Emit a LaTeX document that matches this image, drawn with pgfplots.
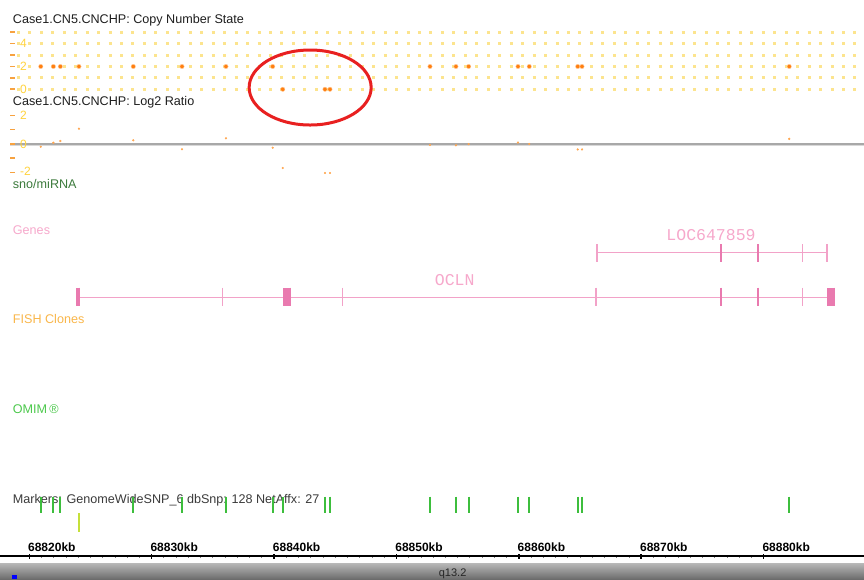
\documentclass[border=0pt]{standalone}
\usepackage{pgfplots}
\pgfplotsset{compat=1.18}
\usepackage{pgfplotstable}
\usepackage{fontspec}
\setmainfont{Liberation Sans}
\newfontfamily\monof{Liberation Mono}
\definecolor{cngrid}{HTML}{FCE48E}
\definecolor{cnorange}{HTML}{FF7F10}
\definecolor{cntick}{HTML}{F7A240}
\definecolor{ylab}{HTML}{FFD23C}
\definecolor{lrpt}{HTML}{FFA650}
\definecolor{sepgray}{HTML}{A8A8A8}
\definecolor{txtdark}{HTML}{1E1E1E}
\definecolor{snogreen}{HTML}{3C7A3C}
\definecolor{genelab}{HTML}{F6A8CB}
\definecolor{genepink}{HTML}{F2A2C8}
\definecolor{genedark}{HTML}{E97AAF}
\definecolor{fishcol}{HTML}{F9B64A}
\definecolor{omimcol}{HTML}{4CC84C}
\definecolor{mkgreen}{HTML}{3DBE3D}
\definecolor{mkyellow}{HTML}{C5E03A}
\definecolor{ellred}{HTML}{E82020}
\definecolor{markgray}{HTML}{3A3A3A}

% SNP markers: position (kb), copy number state, log2 ratio, lane
\pgfplotstableread{
x cn lr lane
68820.94 2 -0.19 0
68821.97 2 0.09 0
68822.54 2 0.21 0
68824.06 2 1.07 1
68828.50 2 0.26 0
68832.48 2 -0.37 0
68836.07 2 0.40 0
68839.89 2 -0.26 0
68840.71 0 -1.68 0
68844.16 0 -2.03 0
68844.57 0 -2.03 0
68852.74 2 -0.07 0
68854.86 2 -0.09 0
68855.90 2 -0.01 0
68859.93 2 0.10 0
68860.85 2 0.00 0
68864.81 2 -0.38 0
68865.16 2 -0.38 0
68882.09 2 0.36 0
}\snps

\pgfplotsset{
  trk/.style={width=864pt,height=579pt,scale only axis,at={(0pt,0pt)},anchor=north west,
    xmin=68817.61,xmax=68888.20,clip=false},
}
\tikzset{
  lab/.style={anchor=base west,inner sep=0pt,font=\fontsize{12.6}{12}\selectfont},
  ylb/.style={anchor=west,inner sep=0pt,text=ylab,font=\fontsize{12}{12}\selectfont},
}
\begin{document}
\begin{tikzpicture}
% ---------- Copy number state track ----------
\begin{axis}[trk, axis lines=none, ymin=-42.956, ymax=7.833]
\addplot[cngrid, line width=3pt, dash pattern=on 3pt off 8.46pt] coordinates {(68818.99,0)(68887.63,0)};
\addplot[cngrid, line width=3pt, dash pattern=on 3pt off 8.46pt] coordinates {(68818.99,1)(68887.63,1)};
\addplot[cngrid, line width=3pt, dash pattern=on 3pt off 8.46pt] coordinates {(68818.99,2)(68887.63,2)};
\addplot[cngrid, line width=3pt, dash pattern=on 3pt off 8.46pt] coordinates {(68818.99,3)(68887.63,3)};
\addplot[cngrid, line width=3pt, dash pattern=on 3pt off 8.46pt] coordinates {(68818.99,4)(68887.63,4)};
\addplot[cngrid, line width=3pt, dash pattern=on 3pt off 8.46pt] coordinates {(68818.99,5)(68887.63,5)};
\addplot[cntick, line width=1.6pt, quiver={u=0.408,v=0}] coordinates {(68818.43,0)(68818.43,1)(68818.43,2)(68818.43,3)(68818.43,4)(68818.43,5)};
\addplot[only marks, mark=*, mark size=2.2pt, color=cnorange, mark options={fill=cnorange, draw=cnorange!40}] table[x=x,y=cn]{\snps};
\node[ylb] at (axis cs:68819.24,4) {4};
\node[ylb] at (axis cs:68819.24,2) {2};
\node[ylb] at (axis cs:68819.24,0) {0};
\end{axis}
% ---------- Log2 ratio track ----------
\begin{axis}[trk, axis lines=none, ymin=-30.42, ymax=10.07]
\addplot[sepgray!45, line width=1pt] coordinates {(68818.43,-0.1)(68888.20,-0.1)};
\addplot[sepgray, line width=1.6pt] coordinates {(68818.43,0)(68888.20,0)};
\addplot[cntick, line width=1.6pt, quiver={u=0.408,v=0}] coordinates {(68818.43,2)(68818.43,1)(68818.43,0)(68818.43,-1)(68818.43,-2)};
\addplot[only marks, mark=*, mark size=0.9pt, color=lrpt, mark options={fill=lrpt, draw=lrpt}] table[x=x,y=lr]{\snps};
\node[ylb] at (axis cs:68819.24,2) {2};
\node[ylb] at (axis cs:68819.24,0) {0};
\node[ylb, yshift=1.5pt] at (axis cs:68819.24,-2) {-2};
\end{axis}
% ---------- Annotation tracks (pixel rows) ----------
\begin{axis}[trk, axis lines=none, y dir=reverse, ymin=0, ymax=579]
\node[lab, text=txtdark] at (axis cs:68818.65,23.3) {Case1.CN5.CNCHP: Copy Number State};
\node[lab, text=txtdark] at (axis cs:68818.65,105) {Case1.CN5.CNCHP: Log2 Ratio};
\node[lab, text=snogreen] at (axis cs:68818.65,188.2) {sno/miRNA};
\node[lab, text=genelab] at (axis cs:68818.65,234) {Genes};
\node[lab, text=fishcol] at (axis cs:68818.65,323) {FISH Clones};
\node[lab, text=omimcol] at (axis cs:68818.65,413) {OMIM\,®};
\node[lab, text=markgray] at (axis cs:68818.65,503) {Markers: GenomeWideSNP\_6 dbSnp: 128 NetAffx: 27};
% OCLN
\addplot[genepink, line width=1.3pt] coordinates {(68823.96,297.3)(68885.80,297.3)};
\addplot[genepink, line width=1.2pt, quiver={u=0,v=18}] coordinates {(68835.80,287.7)(68845.58,287.7)(68866.30,287.7)(68883.16,287.7)};
\addplot[genedark, line width=2pt, quiver={u=0,v=18}] coordinates {(68876.54,287.7)(68879.51,287.7)};
\addplot[genedark, line width=4pt, quiver={u=0,v=18}] coordinates {(68823.98,287.7)};
\addplot[genedark, line width=8pt, quiver={u=0,v=18}] coordinates {(68841.03,287.7)};
\addplot[genedark, line width=7.7pt, quiver={u=0,v=18}] coordinates {(68885.49,287.7)};
\node[anchor=base, inner sep=0pt, text=genelab, font=\monof\fontsize{16.5}{16}\selectfont] at (axis cs:68854.76,285) {OCLN};
% LOC647859
\addplot[genepink, line width=1.3pt] coordinates {(68866.38,252.7)(68885.18,252.7)};
\addplot[genepink, line width=1.2pt, quiver={u=0,v=17.7}] coordinates {(68866.38,244)(68883.16,244)(68885.18,244)};
\addplot[genedark, line width=2pt, quiver={u=0,v=17.7}] coordinates {(68876.54,244)(68879.51,244)};
\node[anchor=base, inner sep=0pt, text=genelab, font=\monof\fontsize{16.5}{16}\selectfont] at (axis cs:68875.70,240) {LOC647859};
% SNP marker glyphs
\addplot[mkgreen, line width=2pt, quiver={u=0,v=16.6}, restrict expr to domain={\thisrow{lane}}{0:0}] table[x=x, y expr=496.7]{\snps};
\addplot[mkyellow, line width=2pt, quiver={u=0,v=19}, restrict expr to domain={\thisrow{lane}}{1:1}] table[x=x, y expr=513]{\snps};
% highlight
\draw[ellred, line width=3pt] (axis cs:68842.95,87.5) ellipse [x radius=61pt, y radius=37.5pt];
\end{axis}
% ---------- Ruler and ideogram ----------
\begin{axis}[trk, ymin=-23, ymax=556, axis x line=middle, axis y line=none,
  every inner x axis line/.append style={-},
  x axis line style={black, line width=1.5pt},
  scaled x ticks=false,
  xtick={68820,68830,68840,68850,68860,68870,68880},
  xticklabels={68820kb,68830kb,68840kb,68850kb,68860kb,68870kb,68880kb},
  minor x tick num=9,
  tick align=center, major tick length=5pt, minor tick length=3pt,
  major x tick style={black, line width=1.5pt},
  minor x tick style={gray, line width=0.8pt},
  xticklabel style={anchor=base west, inner sep=0pt, xshift=-1.3pt, yshift=7.5pt, font=\bfseries\fontsize{12}{12}\selectfont},
]
\addplot[draw=none, top color=gray!55, bottom color=gray!85!black] coordinates {(68817.61,-7)(68888.20,-7)(68888.20,-23)(68817.61,-23)} -- cycle;
\addplot[blue, line width=4pt] coordinates {(68818.57,-21)(68818.98,-21)};
\node[anchor=base west, inner sep=0pt, text=gray!30!black, font=\fontsize{11}{11}\selectfont] at (axis cs:68853.45,-20.3) {q13.2};
\end{axis}
\pgfresetboundingbox
\path[use as bounding box] (0pt,0pt) rectangle (864pt,-579pt);
\end{tikzpicture}
\end{document}
